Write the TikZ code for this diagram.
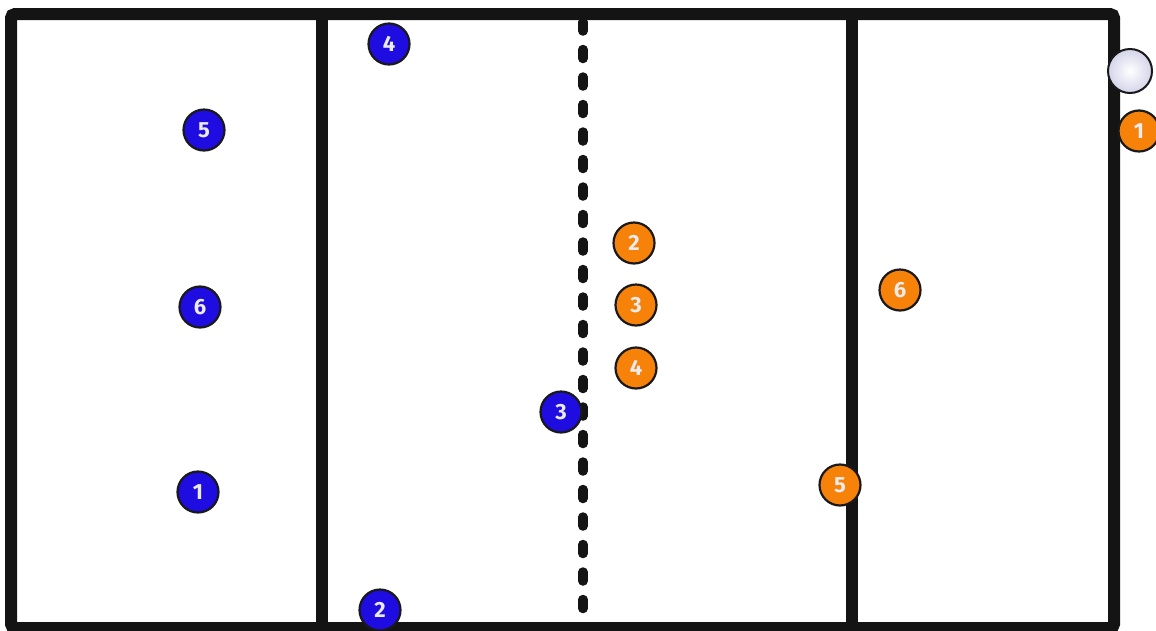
\documentclass[tikz,border=0pt]{standalone}
\usepackage{fontspec}
\newfontfamily\numfont{Fira Sans}
\begin{document}
\begin{tikzpicture}[x=1pt,y=-1pt,
  court/.style={draw=black!92,line width=12pt},
  netline/.style={draw=black!92,line width=9.5pt,line cap=round,dash pattern=on 9pt off 18.5pt},
  player/.style={circle,draw=black!90,line width=2.2pt,minimum size=41pt,inner sep=0pt,
    text=black!8,font=\numfont\bfseries\fontsize{22}{22}\selectfont},
  blueplayer/.style={player,fill=teamblue},
  orangeplayer/.style={player,fill=teamorange},
  ball/.style={circle,draw=black!90,line width=2pt,minimum size=44pt,inner sep=0pt,
    inner color=white,outer color=ballrim}]
\definecolor{teamblue}{HTML}{1E0CE0}
\definecolor{teamorange}{HTML}{F7820A}
\definecolor{ballrim}{HTML}{D4D4EA}
\useasboundingbox (0,0) rectangle (1156,630);
\fill[white] (0,0) rectangle (1156,630);
% court
\coordinate (tl) at (11,14);
\coordinate (br) at (1114,628);
\coordinate (l1t) at (321.5,14);
\coordinate (l1b) at (321.5,628);
\coordinate (l2t) at (851.5,14);
\coordinate (l2b) at (851.5,628);
\coordinate (nt) at (583,22);
\coordinate (nb) at (583,628);
\draw[court] (l1t) -- (l1b);
\draw[court] (l2t) -- (l2b);
\draw[netline] (nt) -- (nb);
\draw[court,rounded corners=4pt] (tl) rectangle (br);
% blue team
\node[blueplayer] (b4) at (389,44) {4};
\node[blueplayer] (b5) at (204,130) {5};
\node[blueplayer] (b6) at (200,307) {6};
\node[blueplayer] (b1) at (198,492) {1};
\node[blueplayer] (b2) at (380,610) {2};
\node[blueplayer] (b3) at (561,412) {3};
% orange team
\node[orangeplayer] (o2) at (634,243) {2};
\node[orangeplayer] (o3) at (636,305) {3};
\node[orangeplayer] (o4) at (636,368) {4};
\node[orangeplayer] (o6) at (900,290) {6};
\node[orangeplayer] (o5) at (840,485) {5};
\node[orangeplayer] (o1) at (1139,131) {1};
% ball
\node[ball] (ballnode) at (1130,71) {};
\end{tikzpicture}
\end{document}
